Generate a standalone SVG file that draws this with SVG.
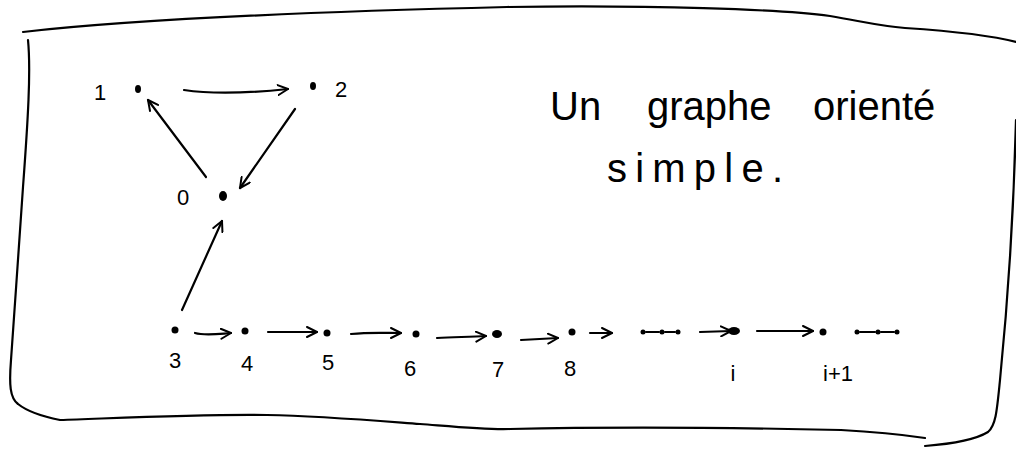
<svg xmlns="http://www.w3.org/2000/svg" width="1016" height="451" viewBox="0 0 1016 451">
<style>
.ln{fill:none;stroke:#000;stroke-width:2.2;stroke-linecap:round;stroke-linejoin:round}
.fr{fill:none;stroke:#000;stroke-width:2.2;stroke-linecap:round}
.dot{fill:#000}
.lbl{font-family:"Liberation Sans",Arial,sans-serif;font-size:22px;fill:#000;text-anchor:middle}
.ttl{font-family:"Liberation Sans",Arial,sans-serif;font-size:40px;fill:#000}
.ar{marker-end:url(#ah)}
</style>
<defs>
<marker id="ah" viewBox="0 0 12 12" refX="11" refY="6" markerWidth="12" markerHeight="12" markerUnits="userSpaceOnUse" orient="auto">
<path d="M1,1 L11,6 L1,11" fill="none" stroke="#000" stroke-width="2" stroke-linecap="round" stroke-linejoin="round"/>
</marker>
</defs>
<rect width="1016" height="451" fill="#fff"/>
<g id="frame">
<path class="fr" d="M23,32 C120,21 300,12 507,7 C650,5 780,9 830,16 C865,22 880,26 905,28 C950,31 990,35 1016,42"/>
<path class="fr" d="M28,40 C31,70 28,120 23,187 C19,250 15,300 11,360 C9,385 10,398 18,404 C28,412 45,417 60,420 C120,418 200,414 267,415 C320,416 367,420 420,424 C470,428 490,430 510,429 C600,427 708,427 841,430 C880,432 905,435 925,438"/>
<path class="fr" d="M1016,120 C1014,200 1008,300 1000,380 C997,410 996,425 988,432 C975,440 950,444 925,446"/>
</g>
<g id="connectors">
<path class="ln ar" d="M184,90 C210,94 250,93 288,89"/>
<path class="ln ar" d="M295,109 L240,188"/>
<path class="ln ar" d="M206,177 L148,100"/>
<path class="ln ar" d="M182,310 L222,221"/>
<path class="ln ar" d="M195,333 C205,336 218,334 231,333"/>
<path class="ln ar" d="M268,332 L317,332"/>
<path class="ln ar" d="M351,334 C370,332 385,333 401,333"/>
<path class="ln ar" d="M437,338 C455,337 470,337 486,336"/>
<path class="ln ar" d="M521,340 L558,338"/>
<path class="ln ar" d="M590,333 L612,333"/>
<path class="ln ar" d="M700,332 L731,331"/>
<path class="ln ar" d="M757,331 L813,331"/>
</g>
<g id="node-1"><ellipse class="dot" cx="138" cy="89" rx="3" ry="4"/><text class="lbl" x="100" y="100">1</text></g>
<g id="node-2"><ellipse class="dot" cx="313" cy="86" rx="3" ry="4"/><text class="lbl" x="341" y="97">2</text></g>
<g id="node-0"><ellipse class="dot" cx="223" cy="196" rx="4" ry="5"/><text class="lbl" x="183" y="205">0</text></g>
<g id="node-3"><circle class="dot" cx="175" cy="330" r="3.5"/><text class="lbl" x="175" y="368">3</text></g>
<g id="node-4"><circle class="dot" cx="245" cy="331" r="3.5"/><text class="lbl" x="247" y="371">4</text></g>
<g id="node-5"><circle class="dot" cx="327" cy="333" r="3.5"/><text class="lbl" x="328" y="370">5</text></g>
<g id="node-6"><circle class="dot" cx="416" cy="334" r="3.5"/><text class="lbl" x="410" y="376">6</text></g>
<g id="node-7"><ellipse class="dot" cx="497" cy="334" rx="5" ry="4"/><text class="lbl" x="498" y="377">7</text></g>
<g id="node-8"><circle class="dot" cx="572" cy="332" r="3.5"/><text class="lbl" x="570" y="376">8</text></g>
<g id="dots-a">
<circle class="dot" cx="643" cy="332" r="2.5"/><circle class="dot" cx="662" cy="332" r="2.5"/><circle class="dot" cx="678" cy="332" r="2.5"/>
<path class="ln" d="M646,332 L659,332 M665,332 L675,332" stroke-width="1.2"/>
</g>
<g id="node-i"><ellipse class="dot" cx="734" cy="331" rx="6" ry="4"/><text class="lbl" x="733" y="381">i</text></g>
<g id="node-i1"><circle class="dot" cx="823" cy="332" r="3.5"/><text class="lbl" x="838" y="381">i+1</text></g>
<g id="dots-b">
<circle class="dot" cx="857" cy="332" r="2.5"/><circle class="dot" cx="878" cy="332" r="2.5"/><circle class="dot" cx="897" cy="332" r="2.5"/>
<path class="ln" d="M860,332 L875,332 M881,332 L894,332" stroke-width="1.2"/>
</g>
<g id="title">
<text class="ttl" y="120"><tspan x="550">Un</tspan><tspan x="647">graphe</tspan><tspan x="813">orienté</tspan></text>
<text class="ttl" x="607" y="182" font-size="48" textLength="176" lengthAdjust="spacing">simple.</text>
</g>
</svg>
